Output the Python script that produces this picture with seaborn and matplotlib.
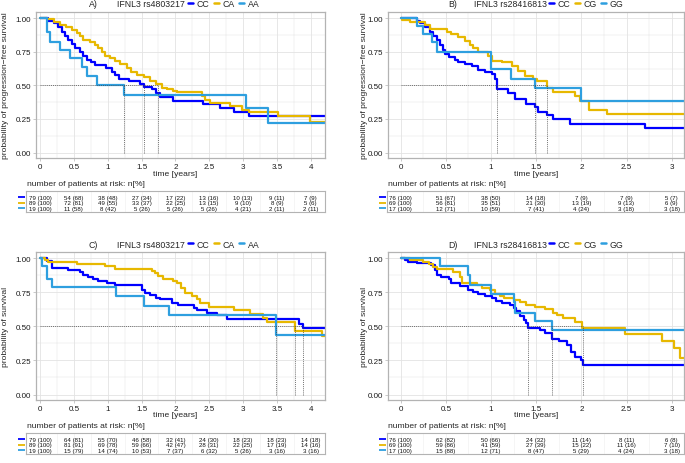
import numpy as np
import pandas as pd
import seaborn as sns
from matplotlib import pyplot as plt
from matplotlib.lines import Line2D
from matplotlib.ticker import MultipleLocator
import matplotlib.transforms as mtransforms

# Group colours (CC, het, hom)
colors = ['#0000FF', '#E7B800', '#2E9FDF']

# ---------------- A) rs4803217, progression-free survival ----------------
a_groups = ['CC', 'CA', 'AA']
a_cc_t = [0, 0.12, 0.20, 0.27, 0.32, 0.37, 0.42, 0.47, 0.52, 0.59, 0.64, 0.70, 0.76, 0.81, 0.98,
          1.06, 1.11, 1.16, 1.31, 1.48, 1.54, 1.65, 1.72, 1.77, 1.97, 2.41, 2.66, 2.86, 3.08, 4.25]
a_cc_s = [1.00, 0.98, 0.96, 0.93, 0.90, 0.87, 0.84, 0.81, 0.78, 0.75, 0.72, 0.69, 0.67, 0.65, 0.63,
          0.60, 0.58, 0.55, 0.53, 0.51, 0.49, 0.47, 0.44, 0.41, 0.385, 0.36, 0.33, 0.305, 0.27, 0.27]
a_ca_t = [0, 0.10, 0.20, 0.30, 0.39, 0.47, 0.54, 0.59, 0.64, 0.74, 0.81, 0.86, 0.91, 0.96, 1.03, 1.11,
          1.18, 1.28, 1.35, 1.43, 1.53, 1.63, 1.72, 1.80, 1.87, 1.97, 2.02, 2.39, 2.44, 2.51, 2.81,
          2.98, 3.08, 3.52, 3.99, 4.25]
a_ca_s = [1.00, 0.99, 0.97, 0.95, 0.93, 0.91, 0.89, 0.87, 0.84, 0.82, 0.80, 0.78, 0.75, 0.72, 0.70, 0.68,
          0.66, 0.63, 0.60, 0.58, 0.56, 0.53, 0.51, 0.48, 0.47, 0.455, 0.45, 0.42, 0.39, 0.37, 0.345,
          0.32, 0.30, 0.27, 0.225, 0.225]
a_aa_t = [0, 0.10, 0.15, 0.30, 0.44, 0.62, 0.69, 0.84, 1.24, 3.05, 3.37, 4.25]
a_aa_s = [1.00, 0.895, 0.825, 0.76, 0.70, 0.635, 0.57, 0.50, 0.43, 0.33, 0.22, 0.22]
a_median = [1.54, 1.74, 1.24]
a_risk_times = [0, 0.5, 1, 1.5, 2, 2.5, 3, 3.5, 4]
a_risk_n = [[79, 54, 38, 27, 17, 13, 10, 9, 7],
            [89, 72, 49, 33, 22, 13, 9, 8, 5],
            [19, 11, 8, 5, 5, 5, 4, 2, 2]]
a_risk_pct = [[100, 68, 48, 34, 22, 16, 13, 11, 9],
              [100, 81, 55, 37, 25, 15, 10, 9, 6],
              [100, 58, 42, 26, 26, 26, 21, 11, 11]]

# ---------------- B) rs28416813, progression-free survival ----------------
b_groups = ['CC', 'CG', 'GG']
b_cc_t = [0, 0.18, 0.21, 0.27, 0.32, 0.36, 0.40, 0.44, 0.47, 0.49, 0.53, 0.60, 0.64, 0.71, 0.79, 0.86,
          0.93, 1.01, 1.04, 1.07, 1.19, 1.27, 1.39, 1.49, 1.52, 1.62, 1.69, 1.87, 2.70, 3.2]
b_cc_s = [1.00, 0.98, 0.96, 0.93, 0.90, 0.87, 0.84, 0.80, 0.76, 0.73, 0.71, 0.69, 0.67, 0.655, 0.64, 0.615,
          0.60, 0.585, 0.55, 0.47, 0.44, 0.40, 0.36, 0.34, 0.30, 0.28, 0.25, 0.21, 0.18, 0.18]
b_cg_t = [0, 0.01, 0.10, 0.27, 0.32, 0.51, 0.56, 0.64, 0.71, 0.77, 0.80, 0.86, 0.97, 1.01, 1.12, 1.23,
          1.30, 1.38, 1.47, 1.51, 1.62, 1.69, 1.93, 1.99, 2.08, 2.28, 3.2]
b_cg_s = [1.00, 0.985, 0.97, 0.95, 0.92, 0.90, 0.88, 0.86, 0.83, 0.80, 0.78, 0.75, 0.72, 0.68, 0.67, 0.64,
          0.61, 0.57, 0.55, 0.53, 0.48, 0.45, 0.42, 0.38, 0.32, 0.29, 0.29]
b_gg_t = [0, 0.18, 0.25, 0.35, 0.40, 1.00, 1.22, 1.49, 2.00, 3.2]
b_gg_s = [1.00, 0.94, 0.88, 0.82, 0.75, 0.62, 0.55, 0.48, 0.38, 0.38]
b_median = [1.07, 1.62, 1.49]
b_risk_times = [0, 0.5, 1, 1.5, 2, 2.5, 3]
b_risk_n = [[76, 51, 38, 14, 7, 7, 5],
            [69, 56, 35, 21, 13, 9, 6],
            [17, 12, 10, 7, 4, 3, 3]]
b_risk_pct = [[100, 67, 50, 18, 9, 9, 7],
              [100, 81, 51, 30, 19, 13, 9],
              [100, 71, 59, 41, 24, 18, 18]]

# ---------------- C) rs4803217, overall survival ----------------
c_groups = ['CC', 'CA', 'AA']
c_cc_t = [0, 0.10, 0.17, 0.42, 0.59, 0.64, 0.71, 0.79, 0.86, 0.99, 1.11, 1.50, 1.55, 1.63, 1.72, 1.77,
          1.95, 2.04, 2.27, 2.32, 2.46, 2.62, 2.76, 3.83, 3.89, 4.25]
c_cc_s = [1.00, 0.98, 0.93, 0.91, 0.90, 0.88, 0.86, 0.85, 0.83, 0.82, 0.80, 0.77, 0.745, 0.73, 0.71, 0.70,
          0.67, 0.655, 0.635, 0.62, 0.60, 0.58, 0.555, 0.52, 0.485, 0.485]
c_ca_t = [0, 0.07, 0.12, 0.54, 0.96, 1.11, 1.65, 1.70, 1.75, 1.82, 1.97, 2.02, 2.09, 2.14, 2.24, 2.32,
          2.36, 2.49, 2.86, 3.10, 3.30, 3.35, 3.76, 4.16, 4.25]
c_ca_s = [1.00, 0.985, 0.97, 0.96, 0.945, 0.92, 0.905, 0.89, 0.87, 0.845, 0.835, 0.815, 0.78, 0.745, 0.72,
          0.70, 0.67, 0.645, 0.62, 0.59, 0.56, 0.53, 0.465, 0.43, 0.43]
c_aa_t = [0, 0.025, 0.10, 0.17, 1.13, 1.53, 1.90, 3.49, 4.25]
c_aa_s = [1.00, 0.945, 0.845, 0.79, 0.725, 0.65, 0.58, 0.44, 0.44]
c_median = [3.89, 3.76, 3.49]
c_risk_times = [0, 0.5, 1, 1.5, 2, 2.5, 3, 3.5, 4]
c_risk_n = [[79, 64, 55, 46, 32, 24, 18, 18, 14],
            [89, 81, 69, 59, 42, 28, 22, 17, 14],
            [19, 15, 14, 10, 7, 6, 5, 3, 3]]
c_risk_pct = [[100, 81, 70, 58, 41, 30, 23, 23, 18],
              [100, 91, 78, 66, 47, 31, 25, 19, 16],
              [100, 79, 74, 53, 37, 32, 26, 16, 16]]

# ---------------- D) rs28416813, overall survival ----------------
d_groups = ['CC', 'CG', 'GG']
d_cc_t = [0, 0.05, 0.085, 0.18, 0.34, 0.38, 0.40, 0.45, 0.53, 0.56, 0.66, 0.75, 0.80, 0.86, 0.93, 1.01,
          1.06, 1.12, 1.21, 1.25, 1.28, 1.32, 1.36, 1.39, 1.41, 1.54, 1.60, 1.68, 1.75, 1.84, 1.89,
          1.93, 2.00, 2.02, 3.2]
d_cc_s = [1.00, 0.99, 0.975, 0.965, 0.95, 0.915, 0.88, 0.86, 0.845, 0.82, 0.795, 0.77, 0.75, 0.735, 0.72,
          0.705, 0.685, 0.67, 0.66, 0.635, 0.61, 0.575, 0.55, 0.525, 0.49, 0.475, 0.45, 0.41, 0.39,
          0.365, 0.315, 0.275, 0.25, 0.22, 0.22]
d_cg_t = [0, 0.10, 0.25, 0.31, 0.36, 0.40, 0.58, 0.66, 0.68, 0.84, 0.90, 0.99, 1.04, 1.10, 1.14, 1.25,
          1.32, 1.39, 1.49, 1.60, 1.69, 1.73, 1.80, 1.93, 2.01, 2.48, 2.89, 3.02, 3.09, 3.2]
d_cg_s = [1.00, 0.99, 0.975, 0.96, 0.935, 0.92, 0.90, 0.86, 0.82, 0.80, 0.78, 0.77, 0.74, 0.72, 0.71, 0.695,
          0.68, 0.66, 0.645, 0.625, 0.60, 0.585, 0.56, 0.535, 0.49, 0.445, 0.395, 0.34, 0.27, 0.27]
d_gg_t = [0, 0.43, 0.74, 0.77, 1.00, 1.25, 1.27, 1.49, 1.68, 3.2]
d_gg_s = [1.00, 0.94, 0.88, 0.80, 0.74, 0.68, 0.60, 0.54, 0.47, 0.47]
d_median = [1.41, 2.02, 1.68]
d_risk_times = [0, 0.5, 1, 1.5, 2, 2.5, 3]
d_risk_n = [[76, 62, 50, 24, 11, 8, 6],
            [69, 59, 41, 27, 15, 11, 7],
            [17, 15, 12, 8, 5, 4, 3]]
d_risk_pct = [[100, 82, 66, 32, 14, 11, 8],
              [100, 86, 59, 39, 22, 16, 10],
              [100, 88, 71, 47, 29, 24, 18]]

sns.set_theme(style='white')
plt.rcParams['font.family'] = ['Liberation Sans', 'DejaVu Sans']

W, H = 685, 464
fig = plt.figure(figsize=(W / 100, H / 100), dpi=100)
border = '#B3B3B3'
grid_c = '#E3E3E3'


def px_axes(x0, y0, x1, y1):
    return fig.add_axes([x0 / W, 1 - y1 / H, (x1 - x0) / W, (y1 - y0) / H])


def km_panel(ax, groups, curves, medians, xlim):
    frames = [pd.DataFrame({'time': t, 'surv': s, 'group': g}) for g, (t, s) in zip(groups, curves)]
    df = pd.concat(frames, ignore_index=True)
    sns.lineplot(data=df, x='time', y='surv', hue='group', hue_order=groups, palette=colors,
                 drawstyle='steps-post', estimator=None, legend=False, linewidth=1.6, ax=ax)
    # median survival lines
    ax.plot([0, max(medians)], [0.5, 0.5], color='#444444', lw=0.5, ls=(0, (1.5, 1.5)))
    for m in medians:
        ax.plot([m, m], [0, 0.5], color='#444444', lw=0.5, ls=(0, (1.5, 1.5)))
    ax.set_xlim(xlim)
    ax.set_ylim(-0.04, 1.045)
    ax.xaxis.set_major_locator(MultipleLocator(0.5))
    ax.xaxis.set_minor_locator(MultipleLocator(0.25))
    ax.yaxis.set_major_locator(MultipleLocator(0.25))
    ax.yaxis.set_minor_locator(MultipleLocator(0.125))
    ax.set_xticklabels([f'{v:g}' for v in ax.get_xticks()])
    ax.set_yticklabels([f'{v:.2f}' for v in ax.get_yticks()])
    ax.grid(which='major', color=grid_c, lw=0.6)
    ax.grid(which='minor', color=grid_c, lw=0.35)
    ax.set_axisbelow(True)
    ax.set_xlabel('')
    ax.set_ylabel('')
    ax.tick_params(which='major', length=2, width=0.5, color=border, pad=1.5,
                   labelsize=5.8, labelcolor='#1a1a1a', bottom=True, left=True)
    ax.tick_params(which='minor', length=0)
    for sp in ax.spines.values():
        sp.set_color(border)
        sp.set_linewidth(0.9)


def risk_table(ax, times, n_rows, pct_rows, xlim):
    for row, (ns, ps) in enumerate(zip(n_rows, pct_rows)):
        for t, n, p in zip(times, ns, ps):
            ax.text(t, 3 - row, f'{n} ({p})', ha='center', va='center', fontsize=4.4, color='#111111')
    ax.set_xlim(xlim)
    ax.set_ylim(0.33, 4.15)
    ax.set_xticks(times)
    ax.xaxis.set_minor_locator(MultipleLocator(0.25))
    ax.grid(axis='x', which='both', color='#EEEEEE', lw=0.4)
    ax.set_axisbelow(True)
    ax.tick_params(axis='x', which='both', length=0, labelbottom=False)
    ax.set_yticks([])
    # coloured group keys at the left of each row
    trans = mtransforms.blended_transform_factory(ax.transAxes, ax.transData)
    for row, c in enumerate(colors):
        ax.plot([-0.026, -0.002], [3 - row, 3 - row], color=c, lw=1.3, transform=trans,
                clip_on=False, solid_capstyle='butt')
    for sp in ax.spines.values():
        sp.set_color(border)
        sp.set_linewidth(0.8)


def header(x_letter, x_name, x_leg, y, letter, name, groups):
    fig.text(x_letter / W, 1 - y / H, letter, ha='center', va='center', fontsize=6.3)
    fig.text(x_name / W, 1 - y / H, name, ha='left', va='center', fontsize=6.3)
    handles = [Line2D([0], [0], color=c, lw=1.8) for c in colors]
    fig.legend(handles, groups, loc='center left', bbox_to_anchor=(x_leg / W, 1 - y / H),
               ncol=3, frameon=False, fontsize=6.3, handlelength=0.55, handletextpad=0.4,
               columnspacing=0.55, borderpad=0, borderaxespad=0)


panels = [
    dict(letter='A)', name='IFNL3 rs4803217', groups=a_groups,
         curves=[(a_cc_t, a_cc_s), (a_ca_t, a_ca_s), (a_aa_t, a_aa_s)], med=a_median,
         rt=a_risk_times, rn=a_risk_n, rp=a_risk_pct, ylab='probability of progression\u2212free survival',
         ax=(36, 13, 325, 159), tab=(26, 192, 325, 213), xlim=(-0.059, 4.21), tlim=(-0.207, 4.21),
         head=(93, 117, 188, 4.5), ylx=6, xlx=175),
    dict(letter='B)', name='IFNL3 rs28416813', groups=b_groups,
         curves=[(b_cc_t, b_cc_s), (b_cg_t, b_cg_s), (b_gg_t, b_gg_s)], med=b_median,
         rt=b_risk_times, rn=b_risk_n, rp=b_risk_pct, ylab='probability of progression\u2212free survival',
         ax=(388, 13, 684, 159), tab=(387, 192, 684, 213), xlim=(-0.14, 3.136), tlim=(-0.151, 3.136),
         head=(453, 474, 549, 4.5), ylx=365, xlx=536),
    dict(letter='C)', name='IFNL3 rs4803217', groups=c_groups,
         curves=[(c_cc_t, c_cc_s), (c_ca_t, c_ca_s), (c_aa_t, c_aa_s)], med=c_median,
         rt=c_risk_times, rn=c_risk_n, rp=c_risk_pct, ylab='probability of survival',
         ax=(36, 253, 325, 401), tab=(26, 434, 325, 455), xlim=(-0.059, 4.21), tlim=(-0.207, 4.21),
         head=(93, 117, 188, 245), ylx=6, xlx=175),
    dict(letter='D)', name='IFNL3 rs28416813', groups=d_groups,
         curves=[(d_cc_t, d_cc_s), (d_cg_t, d_cg_s), (d_gg_t, d_gg_s)], med=d_median,
         rt=d_risk_times, rn=d_risk_n, rp=d_risk_pct, ylab='probability of survival',
         ax=(388, 253, 684, 401), tab=(387, 434, 684, 455), xlim=(-0.14, 3.136), tlim=(-0.151, 3.136),
         head=(453, 474, 549, 245), ylx=365, xlx=536),
]

for p in panels:
    ax = px_axes(*p['ax'])
    km_panel(ax, p['groups'], p['curves'], p['med'], p['xlim'])
    y0, y1 = p['ax'][1], p['ax'][3]
    fig.text(p['ylx'] / W, 1 - (y0 + y1) / 2 / H, p['ylab'], rotation=90,
             ha='center', va='center', fontsize=6.1)
    fig.text(p['xlx'] / W, 1 - (y1 + 15) / H, 'time [years]', ha='center', va='center', fontsize=6.1)
    tab = px_axes(*p['tab'])
    risk_table(tab, p['rt'], p['rn'], p['rp'], p['tlim'])
    fig.text((p['tab'][0] + 1) / W, 1 - (p['tab'][1] - 7.5) / H, 'number of patients at risk: n[%]',
             ha='left', va='center', fontsize=6.1)
    hx = p['head']
    header(hx[0], hx[1], hx[2], hx[3], p['letter'], p['name'], p['groups'])

fig.savefig('out.png', dpi=100)
